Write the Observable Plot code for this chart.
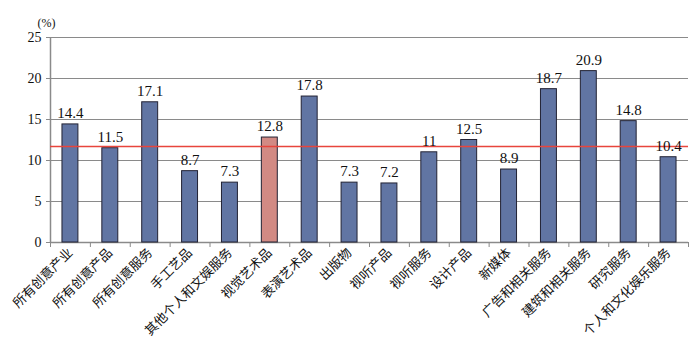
<!DOCTYPE html>
<html><head><meta charset="utf-8">
<script src="https://cdn.jsdelivr.net/npm/d3@7"></script>
<script src="https://cdn.jsdelivr.net/npm/@observablehq/plot@0.6"></script>
<style>body{margin:0;background:#fff}</style>
</head><body><div id="chart"></div>
<script>
const categories = ["所有创意产业","所有创意产品","所有创意服务","手工艺品","其他个人和文娱服务","视觉艺术品","表演艺术品","出版物","视听产品","视听服务","设计产品","新媒体","广告和相关服务","建筑和相关服务","研究服务","个人和文化娱乐服务"];
const values = [14.4,11.5,17.1,8.7,7.3,12.8,17.8,7.3,7.2,11,12.5,8.9,18.7,20.9,14.8,10.4];
const highlighted = ["视觉艺术品"];
const averageLine = [11.7];
const yTicks = [0,5,10,15,20,25];

const data = categories.map((c,i)=>({cat:c, v:values[i], hi: highlighted.includes(c) ? "hi" : "base"}));
const W = 700, H = 357, ML = 50, MR = 12, MT = 37, MB = 115;
const half = (W - ML - MR) / categories.length / 2;
const plotH = H - MT - MB;

const chart = Plot.plot({
  width: W, height: H,
  marginLeft: ML, marginRight: MR, marginTop: MT, marginBottom: MB,
  style: {fontFamily: "'Liberation Serif', serif", fontSize: "14px", color: "#111", background: "#fff"},
  x: {domain: categories, paddingInner: 0.6, paddingOuter: 0.3, round: false, label: null},
  y: {domain: [0, 25], label: null},
  color: {domain: ["base","hi"], range: ["#6175a3","#d28a84"]},
  marks: [
    Plot.ruleY(yTicks.filter(d=>d>0), {stroke: "#8a8a8a", strokeWidth: 1}),
    Plot.ruleY([0], {stroke: "#8a8a8a", strokeWidth: 1.5}),
    Plot.ruleX(categories.slice(0,1), {x: d=>d, dx: -half, stroke: "#8a8a8a", strokeWidth: 1.5}),
    Plot.ruleX(categories, {x: d=>d, dx: -half, insetTop: plotH, insetBottom: -5, stroke: "#8a8a8a", strokeWidth: 1}),
    Plot.ruleX(categories.slice(-1), {x: d=>d, dx: half, insetTop: plotH, insetBottom: -5, stroke: "#8a8a8a", strokeWidth: 1}),
    Plot.barY(data, {x: "cat", y: "v", fill: "hi", stroke: "#222233", strokeWidth: 1}),
    Plot.ruleY(averageLine, {stroke: "#e8453c", strokeWidth: 1.5}),
    Plot.text(data, {x: "cat", y: "v", text: d => String(d.v), dy: -11, fontSize: 15, fill: "#111", style: "letter-spacing:1px"}),
    Plot.axisY({ticks: yTicks, tickSize: 4, tickPadding: 5, stroke: "#8a8a8a", fontSize: 14, tickFormat: d=>d, fill: "#111"}),
    Plot.axisX({tickSize: 0, tickRotate: -45, tickPadding: 8, fontSize: 13, fontFamily: "'Noto Sans CJK SC', sans-serif", fill: "#111"}),
    Plot.text(["(%)"], {frameAnchor: "top-left", dx: -13, dy: -19, fontSize: 12, fill: "#111", textAnchor: "start"})
  ]
});
document.getElementById("chart").appendChild(chart);
</script></body></html>
